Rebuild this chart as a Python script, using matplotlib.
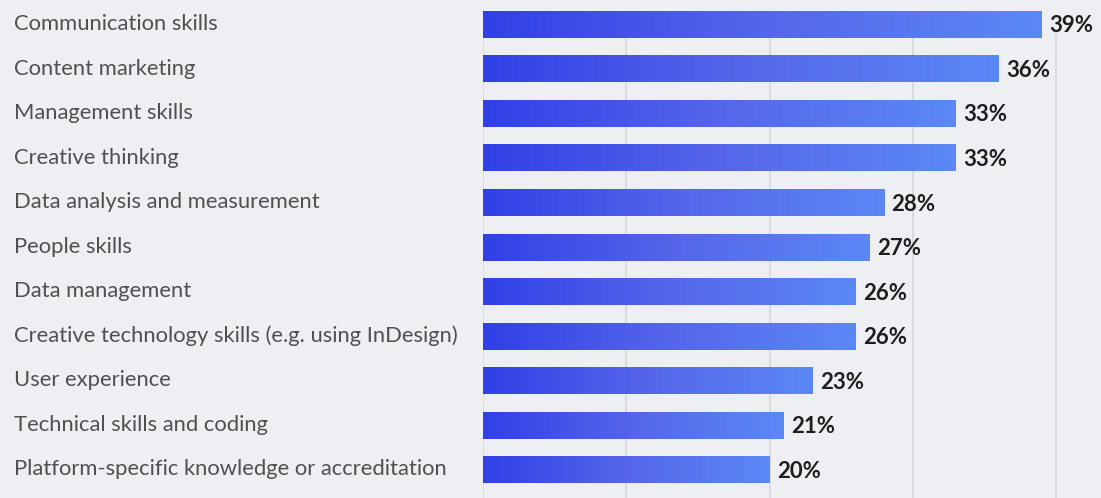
import numpy as np
import matplotlib.pyplot as plt
from matplotlib.colors import LinearSegmentedColormap
from matplotlib.transforms import blended_transform_factory

plt.rcParams.update({"font.family": ["Lato", "DejaVu Sans"]})

skills = [
    "Communication skills",
    "Content marketing",
    "Management skills",
    "Creative thinking",
    "Data analysis and measurement",
    "People skills",
    "Data management",
    "Creative technology skills (e.g. using InDesign)",
    "User experience",
    "Technical skills and coding",
    "Platform-specific knowledge or accreditation",
]
shares = [39, 36, 33, 33, 28, 27, 26, 26, 23, 21, 20]
grid_ticks = [0, 10, 20, 30, 40]

bg = "#eeeff3"
bar_cmap = LinearSegmentedColormap.from_list(
    "bar_grad", ["#3140e6", "#5566ea", "#5b88f5"]
)
gradient = np.linspace(0, 1, 256).reshape(1, -1)

fig = plt.figure(figsize=(11.01, 4.98), dpi=100)
fig.patch.set_facecolor(bg)
ax = fig.add_axes([483 / 1101, 0, 618 / 1101, 1])
ax.set_facecolor(bg)

bar_h = 0.6
ax.set_xlim(0, 43.14)
ax.set_ylim(10.63, -0.55)

# vertical guides sit behind the bars
ax.vlines(grid_ticks, 0.2, 10.63, color="#d9dade", lw=1.4, zorder=1)

for i, val in enumerate(shares):
    ax.imshow(
        gradient,
        cmap=bar_cmap,
        aspect="auto",
        extent=(0, val, i + bar_h / 2, i - bar_h / 2),
        zorder=2,
        interpolation="bilinear",
    )
    ax.annotate(
        f"{val}%",
        (val, i),
        xytext=(5.2, -1),
        textcoords="offset points",
        ha="left",
        va="center",
        fontsize=16,
        fontweight="bold",
        color="#1e1e1e",
    )

label_tf = blended_transform_factory(fig.transFigure, ax.transData)
for i, name in enumerate(skills):
    ax.text(
        14 / 1101,
        i - 0.01,
        name,
        transform=label_tf,
        ha="left",
        va="center",
        fontsize=15.8,
        color="#505050",
        clip_on=False,
    )

ax.set_xlim(0, 43.14)
ax.set_ylim(10.63, -0.55)
ax.axis("off")

fig.savefig("out.png", dpi=100, facecolor=bg)
